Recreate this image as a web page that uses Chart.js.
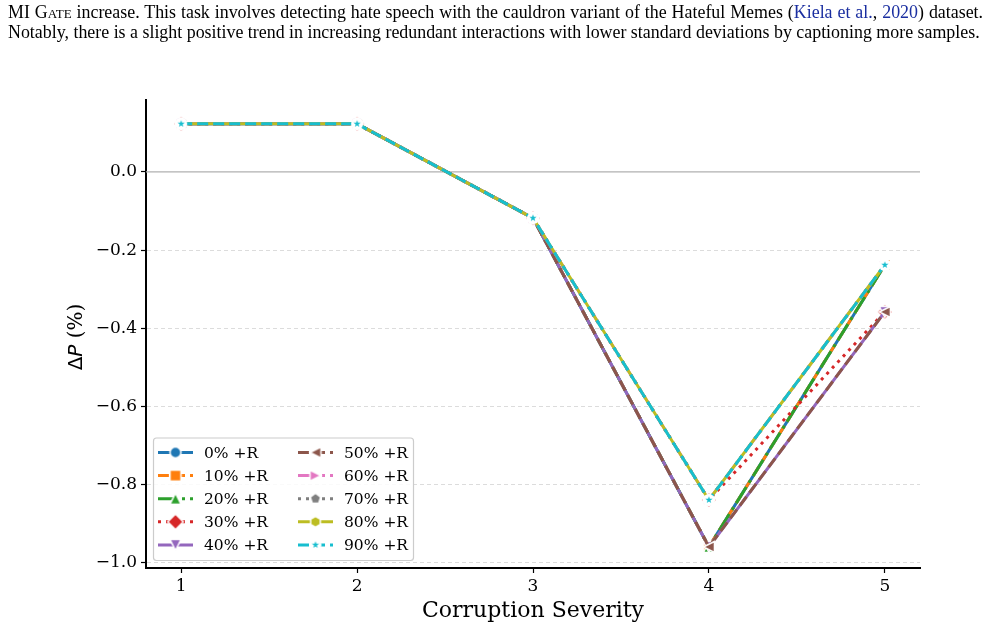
<!DOCTYPE html>
<html>
<head>
<meta charset="utf-8">
<title>Corruption severity vs delta P</title>
<script src="https://cdn.jsdelivr.net/npm/chart.js@4.4.1/dist/chart.umd.min.js"></script>
<style>
  html, body { margin: 0; padding: 0; background: #fff; }
  #wrap { position: relative; width: 987px; height: 630px; overflow: hidden; }
  #chart { position: absolute; left: 0; top: 0; }
  .cap { position: absolute; left: 8px; font-family: 'Liberation Serif', 'Times New Roman', serif; font-size: 17.9px; color: #000; white-space: nowrap; line-height: 20px; }
  #l1 { width: 975px; text-align: justify; text-align-last: justify; }
  .cite { color: #1a2ea0; }
</style>
</head>
<body>
<div id="wrap">
  <canvas id="chart" width="987" height="630"></canvas>
  <div class="cap" id="l1" style="top:2px">MI <span style="font-variant:small-caps">Gate</span> increase. This task involves detecting hate speech with the cauldron variant of the Hateful Memes (<span class="cite">Kiela et al.</span>, <span class="cite">2020</span>) dataset.</div>
  <div class="cap" id="l2" style="top:22px">Notably, there is a slight positive trend in increasing redundant interactions with lower standard deviations by captioning more samples.</div>
</div>
<script>
// data
const severities = [1, 2, 3, 4, 5];
const yTicks = [-1.0, -0.8, -0.6, -0.4, -0.2, 0.0];
const seriesLabels = ['0% +R', '10% +R', '20% +R', '30% +R', '40% +R',
                      '50% +R', '60% +R', '70% +R', '80% +R', '90% +R'];
const r0  = [0.123, 0.123, -0.118, -0.959, -0.238];
const r10 = [0.123, 0.123, -0.118, -0.959, -0.238];
const r20 = [0.123, 0.123, -0.118, -0.959, -0.238];
const r30 = [0.123, 0.123, -0.118, -0.839, -0.358];
const r40 = [0.123, 0.123, -0.118, -0.959, -0.358];
const r50 = [0.123, 0.123, -0.118, -0.959, -0.358];
const r60 = [0.123, 0.123, -0.118, -0.839, -0.238];
const r70 = [0.123, 0.123, -0.118, -0.839, -0.238];
const r80 = [0.123, 0.123, -0.118, -0.839, -0.238];
const r90 = [0.123, 0.123, -0.118, -0.839, -0.238];
const seriesValues = [r0, r10, r20, r30, r40, r50, r60, r70, r80, r90];

// styles (matplotlib tab10 + cycling line styles)
const colors = ['#1f77b4', '#ff7f0e', '#2ca02c', '#d62728', '#9467bd',
                '#8c564b', '#e377c2', '#7f7f7f', '#bcbd22', '#17becf'];
const dashStyles = [[], [11, 5], [19, 5, 3, 5], [3, 5]];
const markerShapes = ['circle', 'square', 'triUp', 'diamond', 'triDown',
                      'triLeft', 'triRight', 'pentagon', 'hexagon', 'star'];

const serif = "'DejaVu Serif', serif";

function polygon(g, n, r, startDeg) {
  for (let k = 0; k < n; k++) {
    const a = (startDeg + k * 360 / n) * Math.PI / 180;
    const px = r * Math.cos(a), py = r * Math.sin(a);
    if (k === 0) g.moveTo(px, py); else g.lineTo(px, py);
  }
}

function pts(g, list) {
  list.forEach((p, k) => { if (k === 0) g.moveTo(p[0], p[1]); else g.lineTo(p[0], p[1]); });
}

function makeMarker(shape, color) {
  const c = document.createElement('canvas');
  c.width = 26; c.height = 26;
  const g = c.getContext('2d');
  g.translate(13, 13);
  const r = 5.5;
  if (shape === 'star') {
    // star marker has a wide white edge
    g.beginPath();
    g.arc(0, 0, 6, 0, Math.PI * 2);
    g.fillStyle = '#fff';
    g.fill();
    g.beginPath();
    for (let k = 0; k < 10; k++) {
      const rr = k % 2 === 0 ? 3.8 : 1.5;
      const a = (-90 + k * 36) * Math.PI / 180;
      if (k === 0) g.moveTo(rr * Math.cos(a), rr * Math.sin(a));
      else g.lineTo(rr * Math.cos(a), rr * Math.sin(a));
    }
    g.closePath();
    g.fillStyle = color;
    g.fill();
    return c;
  }
  g.beginPath();
  if (shape === 'circle') g.arc(0, 0, r, 0, Math.PI * 2);
  else if (shape === 'square') g.rect(-r, -r, 2 * r, 2 * r);
  else if (shape === 'diamond') { const d = r * 1.414; pts(g, [[0, -d], [d, 0], [0, d], [-d, 0]]); }
  else if (shape === 'triUp') pts(g, [[0, -r], [r, r], [-r, r]]);
  else if (shape === 'triDown') pts(g, [[0, r], [r, -r], [-r, -r]]);
  else if (shape === 'triLeft') pts(g, [[-r, 0], [r, -r], [r, r]]);
  else if (shape === 'triRight') pts(g, [[r, 0], [-r, -r], [-r, r]]);
  else if (shape === 'pentagon') polygon(g, 5, r, -90);
  else if (shape === 'hexagon') polygon(g, 6, r, -90);
  g.closePath();
  g.fillStyle = color;
  g.fill();
  g.strokeStyle = '#fff';
  g.lineWidth = 1.5;
  g.stroke();
  return c;
}

const markerImages = markerShapes.map((s, i) => makeMarker(s, colors[i]));

const datasets = seriesLabels.map((label, i) => ({
  label: label,
  data: severities.map((x, k) => ({ x: x, y: seriesValues[i][k] })),
  borderColor: colors[i],
  backgroundColor: colors[i],
  borderWidth: 3,
  borderDash: dashStyles[i % 4],
  borderCapStyle: 'butt',
  pointStyle: markerImages[i],
  pointRadius: 6,
  tension: 0,
  fill: false,
  order: -i  // later series drawn on top, like matplotlib
}));

const decor = {
  id: 'decor',
  beforeDatasetsDraw(chart) {
    const { ctx, chartArea } = chart;
    const y0 = chart.scales.y.getPixelForValue(0);
    ctx.save();
    ctx.strokeStyle = '#b0b0b0';
    ctx.lineWidth = 1.2;
    ctx.beginPath();
    ctx.moveTo(chartArea.left, y0);
    ctx.lineTo(chartArea.right, y0);
    ctx.stroke();
    ctx.restore();
  },
  afterDraw(chart) {
    const { ctx, chartArea } = chart;
    ctx.save();
    ctx.fillStyle = '#000';

    // x title
    ctx.font = '22px ' + serif;
    ctx.textAlign = 'center';
    ctx.textBaseline = 'middle';
    ctx.fillText('Corruption Severity', (chartArea.left + chartArea.right) / 2, 611);

    // y title: ΔP (%) with italic P
    const parts = [
      ['Δ', "20px 'DejaVu Sans', sans-serif"],
      ['P', "oblique 20px 'DejaVu Sans', sans-serif"],
      [' (%)', '20px ' + serif]
    ];
    let total = 0;
    parts.forEach(p => { ctx.font = p[1]; total += ctx.measureText(p[0]).width; });
    ctx.translate(77, (chartArea.top + chartArea.bottom) / 2 + 3);
    ctx.rotate(-Math.PI / 2);
    ctx.textAlign = 'left';
    let px = -total / 2;
    parts.forEach(p => { ctx.font = p[1]; ctx.fillText(p[0], px, 0); px += ctx.measureText(p[0]).width; });
    ctx.restore();

    // legend, lower left, two columns
    ctx.save();
    const bx = chartArea.left + 7.5, by = chartArea.bottom - 7.5 - 122.5;
    const bw = 260, bh = 122.5;
    ctx.beginPath();
    ctx.roundRect(bx, by, bw, bh, 3);
    ctx.fillStyle = 'rgba(255,255,255,0.85)';
    ctx.fill();
    ctx.strokeStyle = '#cccccc';
    ctx.lineWidth = 1.2;
    ctx.stroke();
    ctx.font = '15.5px ' + serif;
    ctx.textAlign = 'left';
    ctx.textBaseline = 'middle';
    seriesLabels.forEach((label, i) => {
      const col = Math.floor(i / 5), row = i % 5;
      const lx = bx + 4.5 + col * 140;
      const ly = by + 14.5 + row * 23.1;
      ctx.save();
      ctx.strokeStyle = colors[i];
      ctx.lineWidth = 3;
      ctx.lineCap = 'butt';
      ctx.setLineDash(dashStyles[i % 4]);
      ctx.beginPath();
      ctx.moveTo(lx, ly);
      ctx.lineTo(lx + 35, ly);
      ctx.stroke();
      ctx.restore();
      const img = markerImages[i];
      ctx.drawImage(img, lx + 17.5 - img.width / 2, ly - img.height / 2);
      ctx.fillStyle = '#000';
      ctx.fillText(label, lx + 46, ly + 1);
    });
    ctx.restore();
  }
};

new Chart(document.getElementById('chart'), {
  type: 'line',
  data: { datasets: datasets },
  plugins: [decor],
  options: {
    responsive: false,
    animation: false,
    layout: { padding: { left: 0, top: 100, right: 67, bottom: 0 } },
    plugins: { legend: { display: false }, tooltip: { enabled: false } },
    scales: {
      x: {
        type: 'linear',
        min: 0.8,
        max: 5.2,
        afterBuildTicks: s => { s.ticks = severities.map(v => ({ value: v })); },
        afterFit: s => { s.height = 62; },
        grid: { drawOnChartArea: false, drawTicks: true, tickLength: 5, tickColor: '#000', tickWidth: 1.2 },
        border: { display: true, color: '#000', width: 2 },
        ticks: {
          font: { family: serif, size: 17 },
          color: '#000',
          padding: 3,
          maxRotation: 0,
          callback: v => String(v)
        }
      },
      y: {
        type: 'linear',
        min: -1.013,
        max: 0.184,
        afterBuildTicks: s => { s.ticks = yTicks.map(v => ({ value: v })); },
        afterFit: s => { s.width = 146; },
        grid: {
          color: c => (c.tick && c.tick.value === 0) ? 'rgba(0,0,0,0)' : '#dcdcdc',
          lineWidth: 1,
          drawTicks: true,
          tickLength: 5,
          tickColor: '#000',
          tickWidth: 1.2
        },
        border: { display: true, color: '#000', width: 2, dash: [4, 3] },
        ticks: {
          font: { family: serif, size: 17 },
          color: '#000',
          padding: 4,
          callback: v => (v < 0 ? '\u2212' : '') + Math.abs(v).toFixed(1)
        }
      }
    }
  }
});
</script>
</body>
</html>
